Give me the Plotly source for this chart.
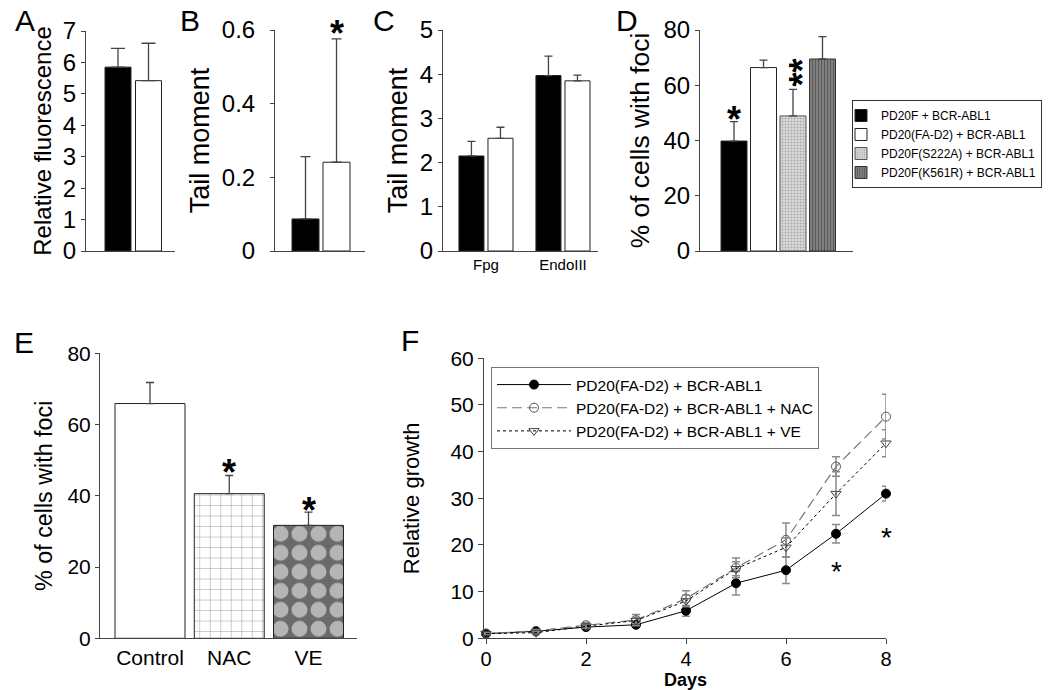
import plotly.graph_objects as go

W, H = 1050, 690
FONT = "Liberation Sans, Arial, Helvetica, sans-serif"

# ---------------- data ----------------
ab_groups = ["PD20F + BCR-ABL1", "PD20(FA-D2) + BCR-ABL1"]
a_vals = [5.85, 5.42]
a_err = [0.60, 1.19]
b_vals = [0.087, 0.241]
b_err = [0.169, 0.335]

c_cats = ["Fpg", "EndoIII"]
c_pd20f = [2.15, 3.97]
c_pd20f_err = [0.33, 0.44]
c_fad2 = [2.55, 3.85]
c_fad2_err = [0.25, 0.13]

d_names = ["PD20F + BCR-ABL1", "PD20(FA-D2) + BCR-ABL1",
           "PD20F(S222A) + BCR-ABL1", "PD20F(K561R) + BCR-ABL1"]
d_vals = [39.8, 66.4, 48.9, 69.5]
d_err = [7.0, 2.7, 9.6, 8.1]

e_cats = ["Control", "NAC", "VE"]
e_vals = [65.9, 40.6, 31.7]
e_err = [5.9, 5.1, 3.7]

f_days = [0, 1, 2, 3, 4, 5, 6, 7, 8]
f_names = ["PD20(FA-D2) + BCR-ABL1", "PD20(FA-D2) + BCR-ABL1 + NAC",
           "PD20(FA-D2) + BCR-ABL1 + VE"]
f_ctrl = [1.0, 1.5, 2.4, 2.9, 5.9, 11.8, 14.6, 22.4, 31.0]
f_ctrl_err = [0.2, 0.3, 0.4, 0.5, 1.15, 2.5, 2.85, 2.0, 1.6]
f_nac = [1.0, 1.6, 2.8, 3.9, 8.5, 15.1, 21.1, 36.8, 47.5]
f_nac_err = [0.2, 0.3, 0.6, 1.2, 1.7, 2.1, 3.6, 2.1, 4.8]
f_ve = [1.0, 1.2, 2.6, 3.8, 8.0, 14.9, 19.5, 31.0, 41.8]
f_ve_err = [0.2, 0.3, 0.4, 0.7, 1.2, 1.5, 2.0, 4.7, 2.9]


def dx(p):
    return p / W


def dy(p):
    return 1 - p / H


fig = go.Figure()

AXC = "#444"


def yax(domain_px, rng, dtick, size, title, tsize, standoff, anchor, lstand=0):
    return dict(domain=[dy(domain_px[1]), dy(domain_px[0])], range=rng, dtick=dtick,
                showgrid=False, zeroline=False, showline=True, linecolor=AXC, linewidth=1,
                ticks="outside", ticklen=4, tickcolor=AXC, ticklabelstandoff=lstand,
                tickfont=dict(size=size, color="black", family=FONT),
                title=dict(text=title, font=dict(size=tsize, color="black", family=FONT),
                           standoff=standoff),
                anchor=anchor, fixedrange=True, automargin=False)


def xax(domain_px, rng, anchor, **kw):
    d = dict(domain=[dx(domain_px[0]), dx(domain_px[1])], range=rng,
             showgrid=False, zeroline=False, showline=True, linecolor=AXC, linewidth=1,
             ticks="", showticklabels=False, anchor=anchor, fixedrange=True, automargin=False)
    d.update(kw)
    return d


ERR = dict(type="data", symmetric=False, color="#444", thickness=1.3)

# ---------------- Panel A ----------------
fig.add_trace(go.Bar(x=[0, 1], y=a_vals, width=0.852, xaxis="x", yaxis="y",
                     marker=dict(color=["black", "white"], line=dict(color="#222", width=1)),
                     error_y=dict(ERR, array=a_err, arrayminus=[0, 0], width=7),
                     showlegend=False, hovertext=ab_groups))
# ---------------- Panel B ----------------
fig.add_trace(go.Bar(x=[0, 1], y=b_vals, width=0.871, xaxis="x2", yaxis="y2",
                     marker=dict(color=["black", "white"], line=dict(color="#222", width=1)),
                     error_y=dict(ERR, array=b_err, arrayminus=[0, 0], width=5),
                     showlegend=False, hovertext=ab_groups))
# ---------------- Panel C ----------------
fig.add_trace(go.Bar(x=[0, 1], y=c_pd20f, width=0.325, offset=-0.351, xaxis="x3", yaxis="y3",
                     marker=dict(color="black", line=dict(color="#222", width=1)),
                     error_y=dict(ERR, array=c_pd20f_err, arrayminus=[0, 0], width=4),
                     showlegend=False, name=ab_groups[0]))
fig.add_trace(go.Bar(x=[0, 1], y=c_fad2, width=0.325, offset=0.026, xaxis="x3", yaxis="y3",
                     marker=dict(color="white", line=dict(color="#222", width=1)),
                     error_y=dict(ERR, array=c_fad2_err, arrayminus=[0, 0], width=4),
                     showlegend=False, name=ab_groups[1]))
# ---------------- Panel D ----------------
d_markers = [
    dict(color="black", line=dict(color="#222", width=1)),
    dict(color="white", line=dict(color="#222", width=1)),
    dict(color="#d2d2d2", line=dict(color="#555", width=1),
         pattern=dict(shape=".", bgcolor="#dadada", fgcolor="#7a7a7a", size=3, solidity=0.35)),
    dict(color="#666", line=dict(color="#333", width=1),
         pattern=dict(shape="|", bgcolor="#8a8a8a", fgcolor="#2a2a2a", size=3, solidity=0.5)),
]
for i, (nm, v, e) in enumerate(zip(d_names, d_vals, d_err)):
    fig.add_trace(go.Bar(x=[i], y=[v], width=0.881, xaxis="x4", yaxis="y4", name=nm,
                         marker=d_markers[i],
                         error_y=dict(ERR, array=[e], arrayminus=[0], width=4),
                         legend="legend"))
# ---------------- Panel E ----------------
fig.add_trace(go.Bar(x=[0, 1, 2], y=e_vals, width=0.883, xaxis="x5", yaxis="y5",
                     marker=dict(color=["white", "white", "#6a6a6a"],
                                 line=dict(color="#222", width=1),
                                 pattern=dict(shape=["", "+", "."],
                                              bgcolor=["white", "white", "#6a6a6a"],
                                              fgcolor=["white", "#8a8a8a", "#ececec"],
                                              size=[10, 10.5, 19],
                                              solidity=[0.1, 0.1, 0.55])),
                     error_y=dict(ERR, array=e_err, arrayminus=[0, 0, 0], width=4),
                     showlegend=False, hovertext=e_cats))
# ---------------- Panel F ----------------
f_styles = [
    dict(line=dict(color="black", width=1, dash="solid"),
         marker=dict(symbol="circle", size=9, color="black", line=dict(color="black", width=1))),
    dict(line=dict(color="#777", width=1.2, dash="10px,5px"),
         marker=dict(symbol="circle-open", size=9, color="#555", line=dict(width=1))),
    dict(line=dict(color="black", width=1, dash="dot"),
         marker=dict(symbol="triangle-down-open", size=9, color="#444", line=dict(width=1))),
]
for nm, ys, es, st in zip(f_names, [f_ctrl, f_nac, f_ve], [f_ctrl_err, f_nac_err, f_ve_err], f_styles):
    fig.add_trace(go.Scatter(x=f_days, y=ys, name=nm, mode="lines+markers", xaxis="x6", yaxis="y6",
                             error_y=dict(type="data", array=es, color="#8a8a8a", thickness=1.5, width=4),
                             cliponaxis=False, legend="legend2", **st))

# ---------------- axes ----------------
layout_axes = dict(
    xaxis=xax((86, 175), [-1.049, 1.869], "y"),
    yaxis=yax((31, 251), [0, 7], 1, 24, "Relative fluorescence", 24, 4, "x"),
    xaxis2=xax((275, 365), [-0.984, 1.919], "y2"),
    yaxis2=yax((30, 251), [0, 0.6], 0.2, 24, "Tail moment", 27, 4, "x2", lstand=10),
    xaxis3=xax((443, 598), [-0.558, 1.455], "y3", showticklabels=True, tickvals=[0, 1],
               ticktext=c_cats, tickfont=dict(size=15, color="black", family=FONT)),
    yaxis3=yax((30, 251), [0, 5], 1, 24, "Tail moment", 27, 4, "x3"),
    xaxis4=xax((700, 853), [-1.153, 4.034], "y4"),
    yaxis4=yax((30, 251), [0, 80], 20, 24, "% of cells with foci", 26.4, 6, "x4"),
    xaxis5=xax((100, 357), [-0.631, 2.612], "y5", showticklabels=True, tickvals=[0, 1, 2],
               ticktext=e_cats, tickfont=dict(size=21, color="black", family=FONT)),
    yaxis5=yax((353.3, 638.3), [0, 80], 20, 21, "% of cells with foci", 23.3, 8, "x5"),
    xaxis6=dict(domain=[dx(484), dx(886)], range=[-0.04, 8], dtick=2, anchor="y6",
                showgrid=False, zeroline=False, showline=True, linecolor=AXC, linewidth=1,
                ticks="outside", ticklen=5, tickcolor=AXC, ticklabelstandoff=-2,
                tickfont=dict(size=20, color="black", family=FONT),
                fixedrange=True, automargin=False),
    yaxis6=yax((358.3, 638.3), [0, 60], 10, 21, "Relative growth", 22, 24, "x6"),
)
layout_axes["yaxis6"]["ticklen"] = 5

# ---------------- annotations ----------------
ann = []
for txt, x, y in [("A", 25, 20), ("B", 190, 20), ("C", 384, 20), ("D", 627, 20),
                  ("E", 24, 342), ("F", 410, 340)]:
    ann.append(dict(text=txt, x=dx(x), y=dy(y), xref="paper", yref="paper", showarrow=False,
                    xanchor="center", yanchor="middle", font=dict(size=30, color="black", family=FONT)))

# x-axis title of panel F
ann.append(dict(text="<b>Days</b>", x=0.5, xref="x6 domain", y=dy(680), yref="paper",
                showarrow=False, xanchor="center", yanchor="middle",
                font=dict(size=18, color="black", family=FONT)))


def star(xref, yref, x, y, shift, size=36, bold=True, text="*", angle=0, xshift=0):
    return dict(text="<b>%s</b>" % text if bold else text, x=x, y=y, xref=xref, yref=yref,
                showarrow=False, xanchor="center", yanchor="middle", yshift=shift,
                xshift=xshift, textangle=angle,
                font=dict(size=size, color="black", family=FONT))


ann.append(star("x2", "y2", 1, b_vals[1] + b_err[1], 5))
ann.append(star("x4", "y4", 0, d_vals[0] + d_err[0], 2))
ann.append(star("x4", "y4", 2, d_vals[2] + d_err[2], 17, text="**", angle=-90, xshift=9))
ann.append(star("x5", "y5", 1, e_vals[1] + e_err[1], 3))
ann.append(star("x5", "y5", 2, e_vals[2] + e_err[2], 2))
ann.append(star("x6", "y6", 7, f_ctrl[7] - f_ctrl_err[7], -28, size=28, bold=False))
ann.append(star("x6", "y6", 8, f_ctrl[8] - f_ctrl_err[8], -36, size=28, bold=False))

fig.update_layout(
    width=W, height=H, margin=dict(l=0, r=0, t=0, b=0, autoexpand=False),
    paper_bgcolor="white", plot_bgcolor="white",
    font=dict(family=FONT, color="black"),
    barmode="overlay", showlegend=True,
    legend=dict(x=dx(852), y=dy(100), xanchor="left", yanchor="top",
                bordercolor="#333", borderwidth=1, bgcolor="white",
                font=dict(size=12, color="black", family=FONT), indentation=-12,
                itemclick=False, itemdoubleclick=False),
    legend2=dict(x=dx(491), y=dy(367), xanchor="left", yanchor="top",
                 bordercolor="#777", borderwidth=1, bgcolor="white",
                 font=dict(size=15.5, color="black", family=FONT), itemwidth=74,
                 itemclick=False, itemdoubleclick=False),
    annotations=ann,
    **layout_axes,
)

# remove the browser's default page margin so the figure sits at the window's top-left corner
fig.write_html("out.html", config={"displayModeBar": False},
               post_script="document.body.style.margin='0';document.body.style.overflow='hidden';")
